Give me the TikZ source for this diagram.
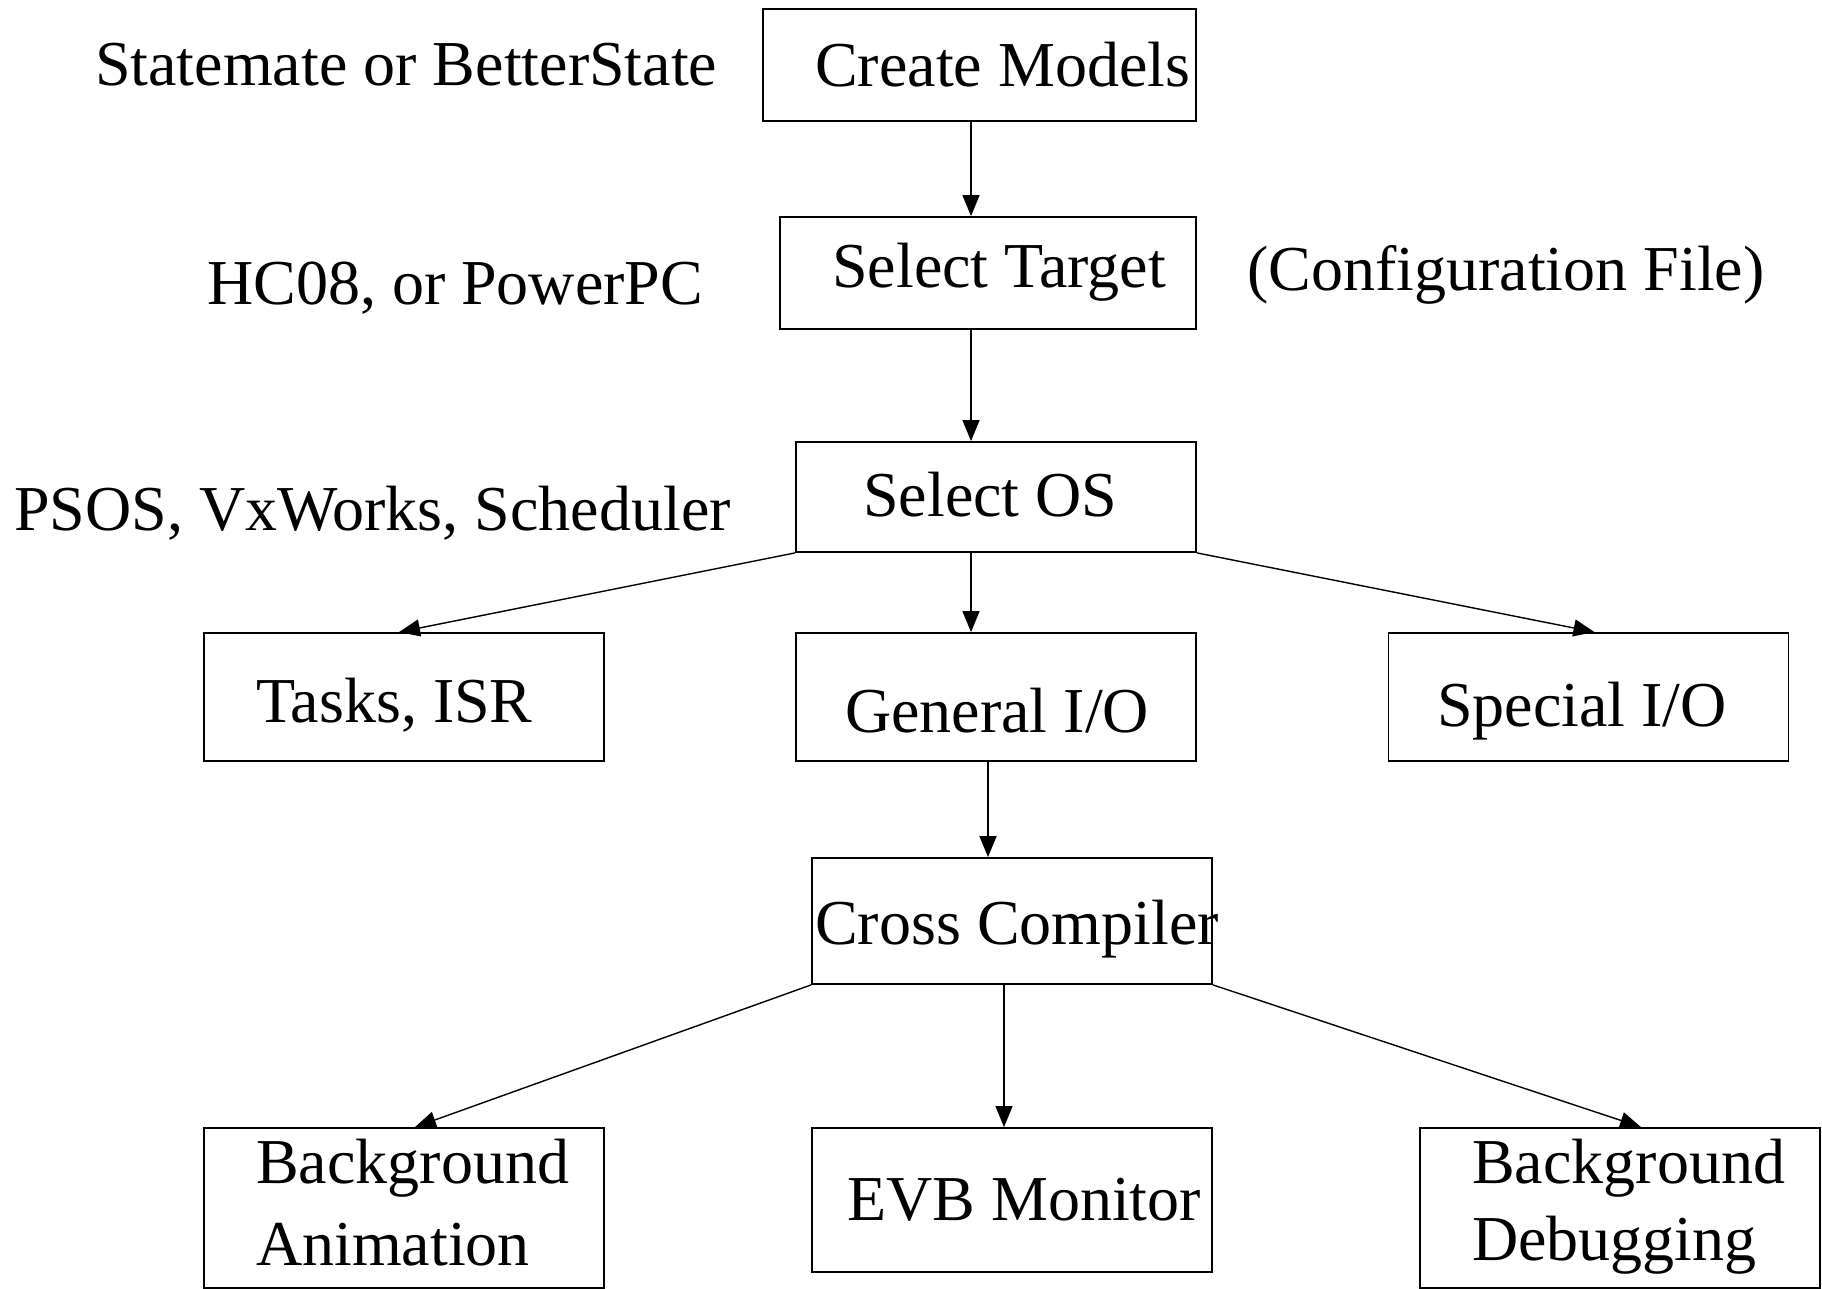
\documentclass[tikz,border=0pt]{standalone}
\usepackage{fontspec}
\setmainfont{Liberation Serif}
\usetikzlibrary{arrows.meta}
\begin{document}
\begin{tikzpicture}[x=1pt,y=-1pt,
  box/.style={draw,line width=1.8pt,minimum width=#1,inner sep=0pt},
  boxtext/.style={inner sep=0pt,font=\fontsize{64}{76}\selectfont,yshift=-5pt},
  lbl/.style={inner sep=0pt,font=\fontsize{64}{76}\selectfont,yshift=-5pt},
  arr/.style={line width=1.4pt,-{Triangle[length=21pt,width=17pt]}}]
\useasboundingbox (0,0) rectangle (1822,1289);
% boxes
\node[box=433pt,minimum height=112pt] (cm) at (979.5,65) {};
\node[box=416pt,minimum height=112pt] (st) at (988,273) {};
\node[box=400pt,minimum height=110pt] (os) at (996,497) {};
\node[box=400pt,minimum height=128pt] (tk) at (404,697) {};
\node[box=400pt,minimum height=128pt] (gi) at (996,697) {};
\node[box=400pt,minimum height=128pt] (si) at (1588.5,697) {};
\node[box=400pt,minimum height=126pt] (cc) at (1012,921) {};
\node[box=400pt,minimum height=160pt] (ba) at (404,1208) {};
\node[box=400pt,minimum height=144pt] (ev) at (1012,1200) {};
\node[box=400pt,minimum height=160pt] (bd) at (1620,1208) {};
% box texts
\node[boxtext,anchor=west] at (815,60) {Create Models};
\node[boxtext,anchor=west] at (832,267) {Select Target};
\node[boxtext,anchor=west] at (863,490) {Select OS};
\node[boxtext,anchor=west] at (256,700) {Tasks, ISR};
\node[boxtext,anchor=west] at (845,706) {General I/O};
\node[boxtext,anchor=west] at (1437,706) {Special I/O};
\node[boxtext,anchor=west] at (815,924) {Cross Compiler};
\node[boxtext,anchor=west] at (847,1195) {EVB Monitor};
\node[boxtext,anchor=west] at (256,1163) {Background};
\node[boxtext,anchor=west] at (256,1240) {Animation};
\node[boxtext,anchor=west] at (1472,1163) {Background};
\node[boxtext,anchor=west] at (1472,1240) {Debugging};
% side labels
\node[lbl,anchor=west] at (95,60) {Statemate or BetterState};
\node[lbl,anchor=west] at (207,283) {HC08, or PowerPC};
\node[lbl,anchor=west] at (1247,270) {(Configuration File)};
\node[lbl,anchor=west] at (14,508) {PSOS, VxWorks, Scheduler};
% connectors
\draw[arr] ([xshift=-8.5pt]cm.south) -- ([xshift=-17pt]st.north);
\draw[arr] ([xshift=-17pt]st.south) -- ([xshift=-25pt]os.north);
\draw[arr] ([xshift=-25pt]os.south) -- ([xshift=-25pt]gi.north);
\draw[arr] (os.south west) -- ([xshift=-5pt]tk.north);
\draw[arr] (os.south east) -- ([xshift=6pt]si.north);
\draw[arr] ([xshift=-8pt]gi.south) -- ([xshift=-24pt]cc.north);
\draw[arr] ([xshift=-8pt]cc.south) -- ([xshift=-8pt]ev.north);
\draw[arr] (cc.south west) -- ([xshift=11pt]ba.north);
\draw[arr] (cc.south east) -- ([xshift=21pt]bd.north);
\end{tikzpicture}
\end{document}
